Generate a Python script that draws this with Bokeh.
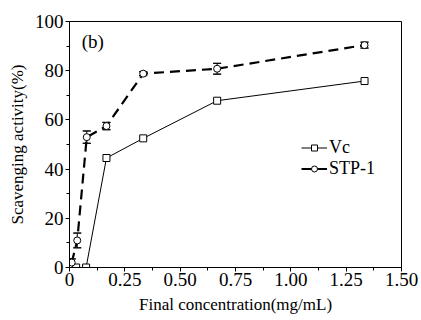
from bokeh.plotting import figure
from bokeh.models import FixedTicker, Legend, LegendItem, ColumnDataSource, Range1d
from bokeh.core.properties import value
from bokeh.embed import file_html
from bokeh.resources import INLINE

vc_x = [0.01, 0.03, 0.075, 0.167, 0.333, 0.667, 1.333]
vc_y = [0, 0, 0, 44.5, 52.5, 67.8, 75.8]
stp_x = [0.01, 0.035, 0.078, 0.167, 0.333, 0.667, 1.333]
stp_y = [2, 11, 53, 57.5, 78.8, 80.8, 90.4]
stp_err = [1.5, 3, 2.5, 1.5, 0.8, 2.2, 1.2]
x_ticks = [0, 0.25, 0.5, 0.75, 1.0, 1.25, 1.5]
x_tick_labels = ["0", "0.25", "0.50", "0.75", "1.00", "1.25", "1.50"]
y_ticks = [0, 20, 40, 60, 80, 100]

FONT = "Liberation Serif"

p = figure(width=421, height=320, output_backend="svg", toolbar_location=None,
           x_range=Range1d(0, 1.5), y_range=Range1d(0, 100),
           min_border_left=69, min_border_right=20, min_border_top=21, min_border_bottom=53)
p.grid.visible = False
p.outline_line_color = "black"
p.outline_line_width = 1
p.background_fill_color = "white"
p.border_fill_color = "white"

for ax in (p.xaxis[0], p.yaxis[0]):
    ax.axis_line_color = "black"
    ax.major_tick_line_color = "black"
    ax.minor_tick_line_color = "black"
    ax.major_tick_out = 4
    ax.major_tick_in = 0
    ax.minor_tick_out = 3
    ax.minor_tick_in = 0
    ax.major_label_text_font = FONT
    ax.major_label_text_font_size = "19px"
    ax.major_label_text_color = "black"
    ax.axis_label_text_font = FONT
    ax.axis_label_text_font_size = "17px"
    ax.axis_label_text_font_style = "normal"
    ax.axis_label_text_color = "black"

p.xaxis.ticker = FixedTicker(ticks=x_ticks, minor_ticks=[0.125, 0.375, 0.625, 0.875, 1.125, 1.375])
p.xaxis.major_label_overrides = {t: l for t, l in zip(x_ticks, x_tick_labels)}
p.xaxis.major_label_standoff = 1
p.xaxis.axis_label = "Final concentration(mg/mL)"
p.xaxis.axis_label_standoff = 6
p.yaxis.ticker = FixedTicker(ticks=y_ticks, minor_ticks=[10, 30, 50, 70, 90])
p.yaxis.major_label_standoff = 2
p.yaxis.axis_label = "Scavenging activity(%)"
p.yaxis.axis_label_standoff = 5

src_stp = ColumnDataSource(dict(x=stp_x, y=stp_y,
                                lo=[a - e for a, e in zip(stp_y, stp_err)],
                                hi=[a + e for a, e in zip(stp_y, stp_err)]))
src_vc = ColumnDataSource(dict(x=vc_x, y=vc_y))

p.segment(x0="x", y0="lo", x1="x", y1="hi", source=src_stp, line_color="black", line_width=1)
p.rect(x="x", y="lo", width=8, height=0.001, width_units="screen", height_units="screen",
       source=src_stp, line_color="black", fill_alpha=0)
p.rect(x="x", y="hi", width=8, height=0.001, width_units="screen", height_units="screen",
       source=src_stp, line_color="black", fill_alpha=0)

vl = p.line("x", "y", source=src_vc, line_color="black", line_width=1)
vm = p.scatter("x", "y", source=src_vc, marker="square", size=7, fill_color="white",
               line_color="black", line_width=1)
sl = p.line("x", "y", source=src_stp, line_color="black", line_width=2.2, line_dash="10 6")
sm = p.scatter("x", "y", source=src_stp, marker="circle", size=7, fill_color="white",
               line_color="black", line_width=1)

p.text(x=[0.055], y=[92], text=["(b)"], text_font=value(FONT), text_font_size="19px",
       text_baseline="middle", text_align="left", text_color="black")

legend = Legend(items=[LegendItem(label="Vc", renderers=[vl, vm]),
                       LegendItem(label="STP-1", renderers=[sl, sm])],
                location=(232, 88), orientation="vertical")
legend.label_text_font = FONT
legend.label_text_font_size = "18px"
legend.label_text_color = "black"
legend.glyph_width = 26
legend.glyph_height = 15
legend.label_standoff = 2
legend.spacing = -4
legend.padding = 0
legend.margin = 0
legend.border_line_alpha = 0
legend.background_fill_alpha = 0
legend.label_height = 15
p.add_layout(legend, "center")

open("out.html", "w").write(file_html(p, INLINE))
